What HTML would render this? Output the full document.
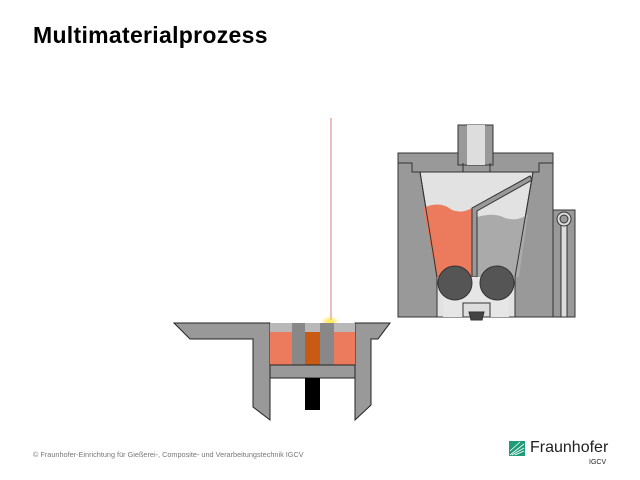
<!DOCTYPE html>
<html><head><meta charset="utf-8"><style>
body{margin:0;width:640px;height:480px;background:#fff;position:relative;overflow:hidden;font-family:"Liberation Sans",sans-serif}
.t{position:absolute;left:33px;top:22px;font-weight:bold;font-size:23px;color:#000;letter-spacing:0.3px}
.f{position:absolute;left:33px;top:450px;font-size:7.3px;color:#777}
.fh{position:absolute;left:530px;top:439px;font-size:16px;color:#222}
.ig{position:absolute;left:589px;top:459px;font-size:7px;color:#222}
</style></head><body>
<div class="t">Multimaterialprozess</div>
<div class="f">© Fraunhofer-Einrichtung für Gießerei-, Composite- und Verarbeitungstechnik IGCV</div>
<div class="fh">Fraunhofer</div>
<div class="ig">IGCV</div>
<svg width="640" height="480" style="position:absolute;left:0;top:0" xmlns="http://www.w3.org/2000/svg">
<defs><radialGradient id="g"><stop offset="0" stop-color="#ffef40"/><stop offset="1" stop-color="#ffd000" stop-opacity="0"/></radialGradient></defs>
<rect x="509" y="441" width="16" height="15" fill="#1f9b7a"/>
<path d="M510 455 L524 444 M512 455 L524 448 M515 455 L524 451 M510 451 L520 442" stroke="#fff" stroke-width="0.8" fill="none"/>
<line x1="331" y1="118" x2="331" y2="320" stroke="#e89090" stroke-width="1.2"/>
<ellipse cx="330" cy="322" rx="9" ry="6" fill="url(#g)"/>
<g stroke="#222" stroke-width="1">
<path d="M174 323 L270 323 L270 420 L253 407 L253 339 L190 339 Z" fill="#999"/>
<path d="M390 323 L355 323 L355 420 L371 405 L371 339 L378 339 Z" fill="#999"/>
<rect x="270" y="323" width="85" height="42" fill="#ec7a5c" stroke="none"/>
<rect x="270" y="323" width="85" height="9" fill="#b8b8b8" stroke="none"/>
<rect x="292" y="323" width="13" height="42" fill="#888" stroke="none"/>
<rect x="305" y="332" width="15" height="33" fill="#c85a14" stroke="none"/>
<rect x="320" y="323" width="14" height="42" fill="#888" stroke="none"/>
<rect x="270" y="365" width="85" height="13" fill="#999"/>
<rect x="305" y="378" width="15" height="32" fill="#000" stroke="none"/>
</g>
<g stroke="#333" stroke-width="1">
<rect x="553" y="210" width="22" height="107" fill="#999"/>
<rect x="561" y="225" width="6" height="92" fill="#ddd"/>
<circle cx="564" cy="219" r="7" fill="#ddd"/>
<circle cx="564" cy="219" r="4" fill="#999"/>
<rect x="398" y="153" width="155" height="164" fill="#999"/>
<rect x="458" y="125" width="35" height="40" fill="#999"/>
<rect x="467" y="125" width="18" height="40" fill="#ddd" stroke="none"/>
<path d="M398 163 L412 163 L412 172 L463 172 L463 163 M553 163 L539 163 L539 172 L490 172 L490 163" fill="none"/>
<path d="M420 172 L533 172 L515 277 L515 317 L437 317 L437 277 Z" fill="#e2e2e2"/>
<path d="M423 208 Q440 200 452 210 Q462 214 472 208 L472 277 L437 277 Z" fill="#ec7a5c" stroke="none"/>
<path d="M477 217 Q495 212 505 218 Q518 222 528 214 L519 277 L477 277 Z" fill="#aaa" stroke="none"/>
<path d="M420 172 L533 172 L515 277 L515 317 L437 317 L437 277 Z" fill="none"/>
<path d="M472 277 L472 208 L530 176 L532 180 L477 211 L477 277 Z" fill="#999"/>
<rect x="443" y="277" width="66" height="40" fill="#e6e6e6" stroke="none"/>
<rect x="463" y="303" width="27" height="14" fill="#ddd"/>
<path d="M469 312 L484 312 L482 320 L471 320 Z" fill="#444"/>
<circle cx="455" cy="283" r="17" fill="#555"/>
<circle cx="497" cy="283" r="17" fill="#555"/>
</g>
</svg>
</body></html>
